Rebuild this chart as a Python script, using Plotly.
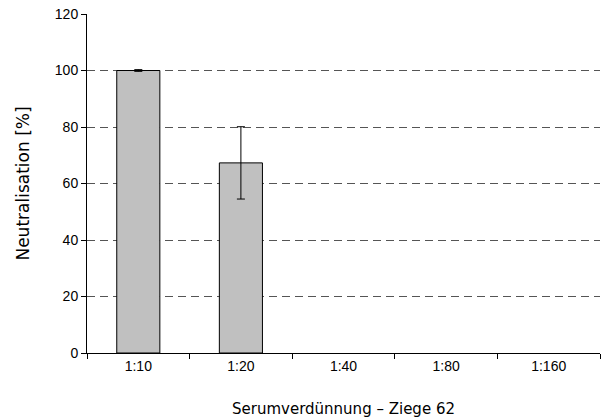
import plotly.graph_objects as go

categories = ["1:10", "1:20", "1:40", "1:80", "1:160"]
values = [100, 67.3, None, None, None]
errors = [0.3, 12.8, None, None, None]
y_ticks = [0, 20, 40, 60, 80, 100, 120]

fig = go.Figure()
fig.add_trace(go.Bar(
    x=categories, y=values,
    marker=dict(color="#C0C0C0", line=dict(color="black", width=1)),
    width=0.42,
    error_y=dict(type="data", array=errors, visible=True,
                 color="black", thickness=1, width=4),
))

fig.update_layout(
    width=602, height=419,
    margin=dict(l=87, r=2, t=14, b=66),
    plot_bgcolor="white", paper_bgcolor="white",
    showlegend=False,
    font=dict(family="Liberation Sans, Arial", size=14, color="black"),
    xaxis=dict(
        type="category",
        showline=True, linecolor="black", linewidth=1,
        ticks="outside", ticklen=5, tickcolor="black",
        tickson="boundaries",
        showgrid=False,
        title=dict(text="Serumverdünnung – Ziege 62",
                   font=dict(family="DejaVu Sans", size=15), standoff=30),
        tickfont=dict(size=14),
    ),
    yaxis=dict(
        range=[0, 120],
        tickvals=y_ticks,
        showline=True, linecolor="black", linewidth=1,
        ticks="outside", ticklen=5, tickcolor="black",
        showgrid=True, gridcolor="#555555", gridwidth=1, griddash="8px,5px",
        zeroline=False,
        title=dict(text="Neutralisation [%]",
                   font=dict(family="DejaVu Sans", size=17), standoff=20),
        tickfont=dict(size=14),
    ),
)

fig.write_html("out.html", config={"displayModeBar": False},
               post_script="document.body.style.margin='0px';")
